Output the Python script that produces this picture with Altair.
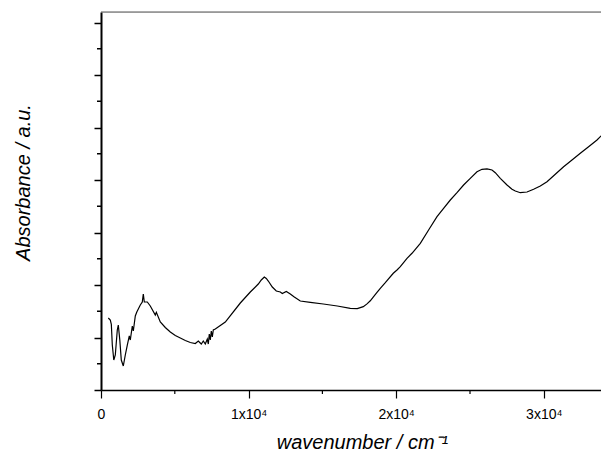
import altair as alt
import pandas as pd

# wavenumber (cm^-1) and absorbance (a.u.)
wavenumber = [495, 630, 700, 766, 867, 969, 1104, 1172, 1274, 1375, 1511, 1646, 1782, 1917,
              1985, 2121, 2189, 2324, 2426, 2663, 2798, 2866, 2934, 3137, 3340, 3679, 3750,
              4018, 4356, 4695, 5034, 5373, 5711, 6050, 6389, 6592, 6795, 6931, 7066, 7202,
              7270, 7337, 7405, 7473, 7541, 7609, 7744, 8421, 9438, 10115, 10657, 10860,
              11064, 11199, 11335, 11606, 11877, 12148, 12284, 12555, 12826, 13097, 13503,
              14181, 15062, 16009, 16890, 17364, 17771, 18022, 18245, 18469, 18699, 18922,
              19262, 19803, 20054, 20278, 20732, 21070, 21633, 22195, 22764, 23211, 23666,
              24119, 24566, 25020, 25474, 25813, 26152, 26490, 26714, 27053, 27507, 27846,
              28069, 28408, 28862, 29309, 29763, 30217, 30779, 31341, 31910, 32473, 33035,
              33604, 34166, 34437]
absorbance = [1.371, 1.333, 1.25, 0.857, 0.571, 0.667, 1.143, 1.238, 0.952, 0.571, 0.457, 0.667,
              0.857, 1.029, 0.952, 1.219, 1.124, 1.41, 1.486, 1.619, 1.676, 1.829, 1.676, 1.676,
              1.6, 1.429, 1.48, 1.295, 1.190, 1.105, 1.038, 0.990, 0.943, 0.905, 0.886, 0.933,
              0.876, 0.933, 0.876, 0.971, 0.876, 1.067, 0.952, 1.124, 1.010, 1.143, 1.162,
              1.295, 1.657, 1.867, 2.019, 2.095, 2.152, 2.124, 2.076, 1.962, 1.886, 1.867,
              1.838, 1.876, 1.829, 1.771, 1.695, 1.670, 1.638, 1.6, 1.556, 1.549, 1.587, 1.64,
              1.70, 1.78, 1.86, 1.937, 2.044, 2.223, 2.286, 2.349, 2.509, 2.604, 2.794, 3.048,
              3.301, 3.461, 3.619, 3.758, 3.905, 4.032, 4.158, 4.204, 4.210, 4.190, 4.139,
              4.032, 3.905, 3.823, 3.790, 3.758, 3.771, 3.823, 3.886, 3.968, 4.109, 4.253,
              4.381, 4.509, 4.634, 4.762, 4.920, 5.048]

x_major = [0, 10000, 20000, 30000]
x_minor = [5000, 15000, 25000]
y_major = [0, 1, 2, 3, 4, 5, 6, 7]
y_minor = [0.5, 1.5, 2.5, 3.5, 4.5, 5.5, 6.5]

X_MAX = 33875
Y_MAX = 7.2
W, H = 500, 378

df = pd.DataFrame({"w": wavenumber, "a": absorbance, "i": list(range(len(wavenumber)))})
xscale = alt.Scale(domain=[0, X_MAX], nice=False, zero=False)
yscale = alt.Scale(domain=[0, Y_MAX], nice=False, zero=False)

FONT = "Liberation Sans"

xaxis = alt.Axis(
    values=x_major, tickSize=8, tickWidth=1.2, tickColor="black",
    domainColor="black", domainWidth=1.5, grid=False,
    labelExpr="datum.value == 0 ? '0' : format(datum.value / 10000, 'd') + 'x10\u2074'",
    labelFont=FONT, labelFontSize=14, labelColor="black",
    labelBaseline="alphabetic", labelPadding=20, labelFlush=False, labelOverlap=False,
    title="wavenumber / cm\u207b\u00b9", titleFont=FONT, titleFontSize=20,
    titleFontStyle="italic", titleFontWeight="normal", titleColor="black",
    titleX=261, titleY=58, titleBaseline="alphabetic", titleAlign="center",
)
yaxis = alt.Axis(
    values=y_major, tickSize=7, tickWidth=1.5, tickColor="black",
    domainColor="black", domainWidth=2, grid=False, labels=False,
    title="Absorbance / a.u.", titleFont=FONT, titleFontSize=20,
    titleFontStyle="italic", titleFontWeight="normal", titleColor="black",
    titleX=-71.5, titleY=170, titleBaseline="alphabetic", titleAlign="center",
    titleAngle=270,
)

line = alt.Chart(df).mark_line(color="black", strokeWidth=1.2, clip=True).encode(
    x=alt.X("w:Q", scale=xscale, axis=xaxis),
    y=alt.Y("a:Q", scale=yscale, axis=yaxis),
    order="i:Q",
)

xminor = alt.Chart(pd.DataFrame({"v": x_minor})).mark_rule(color="black", strokeWidth=1.2).encode(
    x=alt.X("v:Q", scale=xscale), y=alt.value(H), y2=alt.value(H + 4)
)
yminor = alt.Chart(pd.DataFrame({"v": y_minor})).mark_rule(color="black", strokeWidth=1.5).encode(
    y=alt.Y("v:Q", scale=yscale), x=alt.value(-4), x2=alt.value(0)
)
top = alt.Chart(pd.DataFrame({"v": [0]})).mark_rule(color="#555555", strokeWidth=1).encode(
    x=alt.value(0), x2=alt.value(W), y=alt.value(0)
)

chart = alt.layer(line, xminor, yminor, top).properties(
    width=W, height=H,
    autosize=alt.AutoSizeParams(type="none"),
    padding={"left": 93, "top": 4, "right": 0, "bottom": 61},
).configure_view(stroke=None).configure(background="white")

chart.save("out.html", embed_options={"renderer": "svg", "actions": False})
